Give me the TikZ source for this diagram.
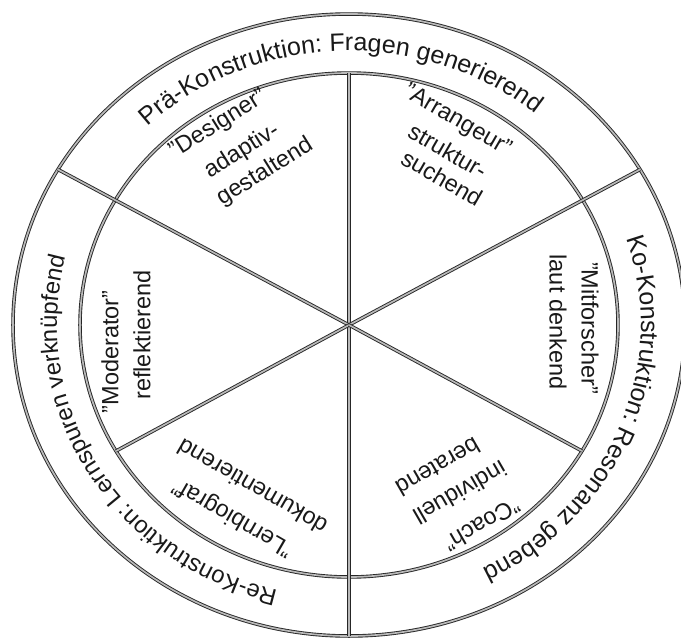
\documentclass[tikz,border=0pt]{standalone}
\usepackage{fontspec}
\setmainfont{Liberation Sans}
\usetikzlibrary{decorations.text}
\newcommand\ringfont{\fontsize{25}{30}\selectfont}
\newcommand\ringfontsmall{\fontsize{23.8}{28}\selectfont}
\tikzset{
  ringline/.style={draw=black!85, line width=0.9pt, double=gray!55, double distance=1.7pt},
  rolelabel/.style={font=\fontsize{23.5}{27}\selectfont, text=black!90, inner sep=0pt, anchor=center},
  ringtext/.style 2 args={decorate, decoration={text along path, text align=center, text color=black!90,
     text={|#1|#2}}},
}
\begin{document}
\begin{tikzpicture}[x=1pt,y=1pt]
\useasboundingbox (-349,-313) rectangle (332,325);
\clip (-349,-313) rectangle (332,325);
\fill[white] (-349,-313) rectangle (332,325);
% named points
\coordinate (c) at (0,0);
\coordinate (top) at (0,252);
\coordinate (bot) at (0,-311);
\coordinate (ul) at (150:336 and 311);
\coordinate (ur) at (30:336 and 311);
\coordinate (ll) at (210:269 and 252);
\coordinate (lr) at (330:269 and 252);
% rings
\draw[ringline] (c) ellipse [x radius=336, y radius=311];
\draw[ringline] (c) ellipse [x radius=269, y radius=252];
% spokes
\draw[ringline] (top) -- (bot);
\draw[ringline] (c) -- (ul);
\draw[ringline] (c) -- (ur);
\draw[ringline] (c) -- (ll);
\draw[ringline] (c) -- (lr);
% ring texts
\path[ringtext={\ringfont}{Prä-Konstruktion: Fragen generierend}]
  (182:292 and 274) arc[start angle=182, end angle=2, x radius=292, y radius=274];
\path[ringtext={\ringfont}{Ko-Konstruktion: Resonanz gebend}]
  (68.5:292 and 274) arc[start angle=68.5, end angle=-111.5, x radius=292, y radius=274];
\path[ringtext={\ringfontsmall}{Re-Konstruktion: Lernspuren verknüpfend}]
  (300:292 and 274) arc[start angle=300, end angle=120, x radius=292, y radius=274];
% sector labels
\node[rolelabel, rotate=32] (d1) at (-131,201) {"Designer"};
\node[rolelabel, rotate=32] (d2) at (-107,174) {adaptiv-};
\node[rolelabel, rotate=32] (d3) at (-84,153) {gestaltend};
\node[rolelabel, rotate=-30] (a1) at (108,204) {"Arrangeur"};
\node[rolelabel, rotate=-30] (a2) at (99,174) {struktur-};
\node[rolelabel, rotate=-30] (a3) at (93,147) {suchend};
\node[rolelabel, rotate=-90] (m1) at (241,-3) {"Mitforscher"};
\node[rolelabel, rotate=-90] (m2) at (209,3) {laut denkend};
\node[rolelabel, rotate=90] (o1) at (-239,-27) {"Moderator"};
\node[rolelabel, rotate=90] (o2) at (-207,-10) {reflektierend};
\node[rolelabel, rotate=150] (l1) at (-116,-192) {"Lernbiograf"};
\node[rolelabel, rotate=150] (l2) at (-97,-162) {dokumentierend};
\node[rolelabel, rotate=-150] (k1) at (133,-200) {"Coach"};
\node[rolelabel, rotate=-150] (k2) at (111,-168) {individuell};
\node[rolelabel, rotate=-150] (k3) at (89,-142) {beratend};
\end{tikzpicture}
\end{document}
